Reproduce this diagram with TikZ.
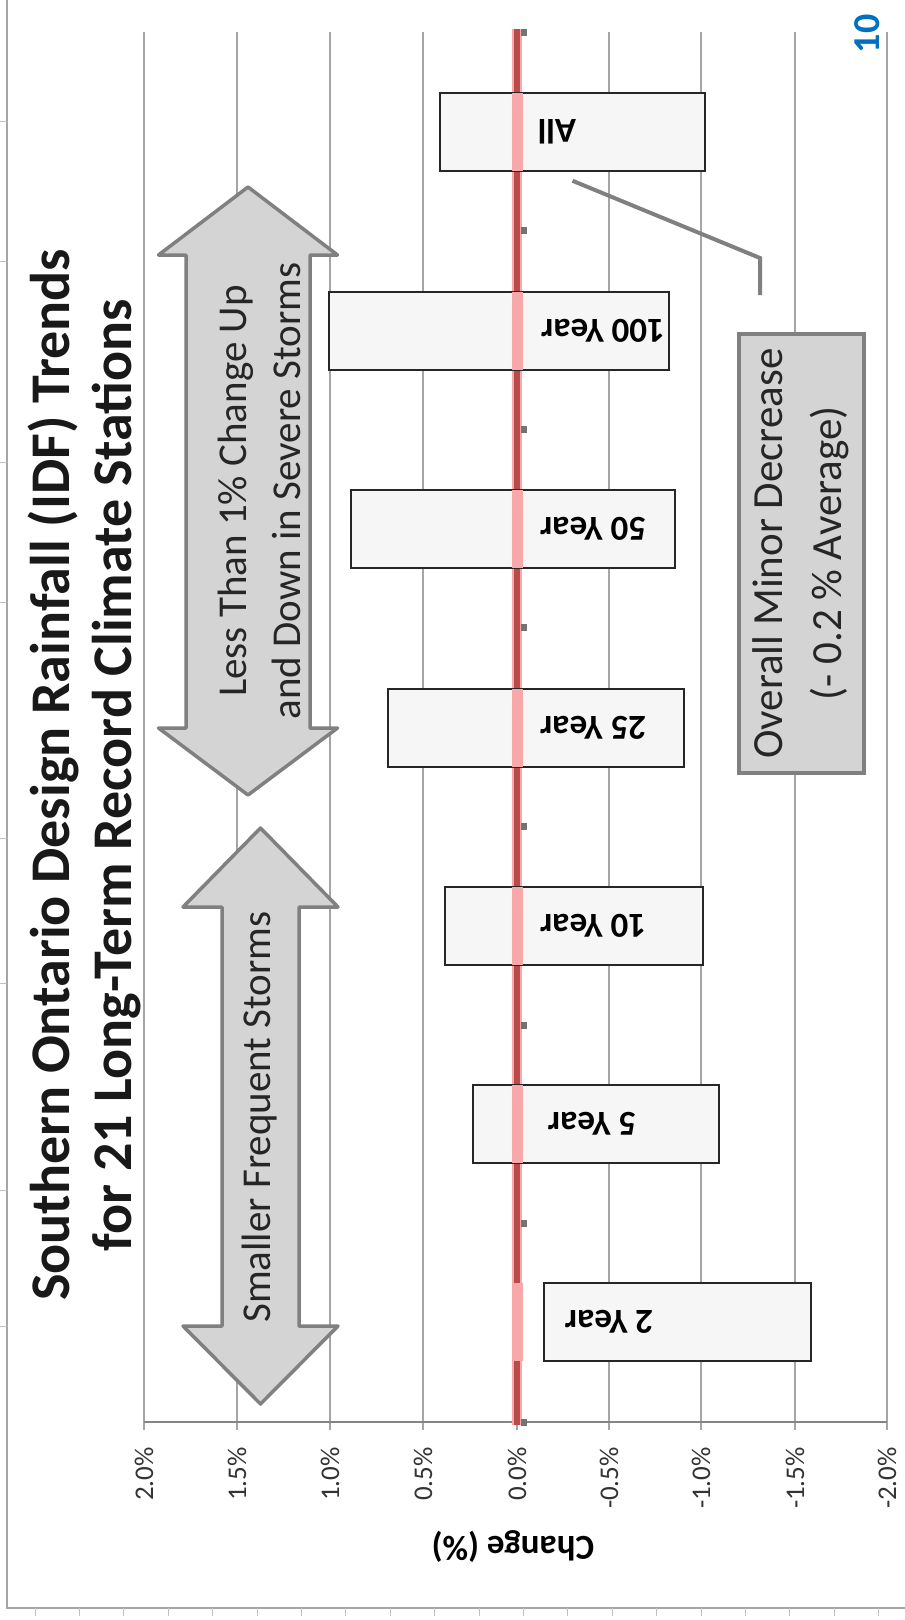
\documentclass[tikz,border=0pt]{standalone}
\usepackage{fontspec}
\setmainfont{Carlito}
\definecolor{zeroline}{RGB}{184,76,74}
\definecolor{zeropink}{RGB}{248,168,168}
\definecolor{gridgray}{RGB}{165,165,165}
\definecolor{arrowfill}{RGB}{212,212,212}
\definecolor{arrowedge}{RGB}{128,128,128}
\definecolor{barfill}{RGB}{246,246,246}
\definecolor{pageblue}{RGB}{0,112,192}
\usetikzlibrary{calc}

\begin{document}
\begin{tikzpicture}[x=1pt,y=-1pt,
  gridline/.style={gridgray,line width=1.2pt},
  frametick/.style={gridgray!70,line width=1pt},
  stormarrow/.style={fill=arrowfill,draw=arrowedge,line width=3.5pt,line join=round},
  stormtext/.style={rotate=90,align=center,text=black!85,font=\fontsize{41}{54}\selectfont},
  bar/.style={draw=black!85,fill=barfill,line width=1.5pt,minimum height=78pt,inner sep=0pt},
  barlabel/.style={rotate=180,font=\fontsize{35}{40}\selectfont\bfseries},
  ticklabel/.style={rotate=90,anchor=east,inner sep=0pt,text=black!80,font=\fontsize{27}{30}\selectfont}]
  \useasboundingbox (0,0) rectangle (905,1620);

  % page frame
  \draw[gridgray,line width=1.8pt] (7,0) -- (7,1608) -- (905,1608);
  \foreach \k in {0,...,19}
    \draw[frametick] ({35+44.4*\k},1608) -- ++(0,8);
  \foreach \ty in {121,261,462,602,838,983,1190,1326}
    \draw[frametick] (0,\ty) -- (7,\ty);

  % value grid
  \foreach \lab/\gx [count=\k] in {2.0/144,1.5/237,1.0/330,0.5/423,0.0/517,-0.5/609,-1.0/701,-1.5/795,-2.0/887}{
    \draw[gridline] (\gx,32) -- (\gx,1430);
    \node[ticklabel] (tick\k) at (\gx,1447) {\lab\%};
  }
  \draw[gridgray!80!black,line width=1.4pt] (144,1422) -- (887,1422);
  \node[rotate=180,font=\fontsize{35}{40}\selectfont\bfseries] (valtitle) at (513,1547) {Change (\%)};

  % zero line
  \coordinate (zero) at (517,0);
  \draw[zeropink,line width=10pt] (517,29) -- (517,1425);
  \draw[zeroline,line width=6pt] (517,29) -- (517,1425);
  \foreach \k in {0,...,7}
    \fill[black!55] (521,{32+198.6*\k-3.5}) rectangle (527,{32+198.6*\k+3.5});

  % bars
  \foreach \lab/\yc/\xa/\xb/\xt [count=\i] in {All/132/440/705/557,100 Year/331/329/669/603,50 Year/529/351/675/593,25 Year/728/388/684/593,10 Year/926/445/703/593,5 Year/1124/473/719/592,2 Year/1322/544/811/609}{
    \node[bar,minimum width={(\xb-\xa)*1pt}] (bar\i) at ({(\xa+\xb)/2},\yc) {};
    \draw[zeropink,line width=11pt,shorten <=1pt,shorten >=1pt] (zero |- bar\i.north) -- (zero |- bar\i.south);
    \node[barlabel] (lab\i) at (\xt,\yc) {\lab};
  }

  % storm arrows
  \draw[stormarrow] (248,187) -- (337.5,255) -- (310,255) -- (310,728) -- (337.5,728) -- (248,795)
    -- (158.5,728) -- (186,728) -- (186,255) -- (158.5,255) -- cycle;
  \node[stormtext] (severe) at (259,491) {Less Than 1\% Change Up\\and Down in Severe Storms};
  \draw[stormarrow] (260.5,828) -- (338,907) -- (299,907) -- (299,1326) -- (338,1326) -- (260.5,1404)
    -- (183,1326) -- (222,1326) -- (222,907) -- (183,907) -- cycle;
  \node[stormtext] (frequent) at (260,1117) {Smaller Frequent Storms};

  % average callout
  \node[rotate=90,draw=arrowedge,fill=arrowfill,line width=4pt,minimum width=439pt,minimum height=125pt,
        align=center,text=black!85,font=\fontsize{43}{59}\selectfont] (avgbox) at (801,553.5)
        {Overall Minor Decrease\\(- 0.2 \% Average)};
  \coordinate (callbot) at (760,295);
  \coordinate (callknee) at (760,258);
  \coordinate (calltip) at ([yshift=-9pt]bar1.south);
  \draw[arrowedge,line width=4pt] (callbot) -- (callknee) -- (calltip);

  % title and page number
  \node[rotate=90,align=center,text=black!90,font=\fontsize{56}{62}\selectfont\bfseries] (title) at (84,775)
    {Southern Ontario Design Rainfall (IDF) Trends\\for 21 Long-Term Record Climate Stations};
  \node[rotate=90,text=pageblue,font=\fontsize{38}{40}\selectfont\bfseries] (pagenum) at (867,34) {10};
\end{tikzpicture}
\end{document}
